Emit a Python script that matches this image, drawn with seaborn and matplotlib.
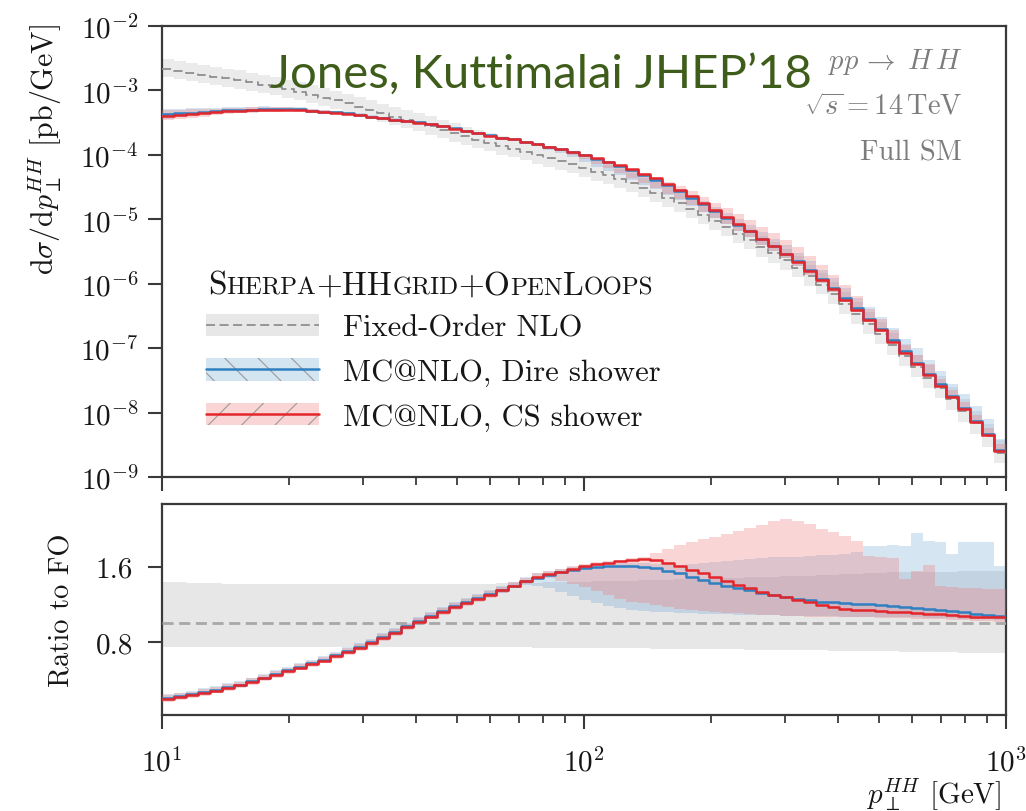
import numpy as np
import pandas as pd
import matplotlib
matplotlib.use("Agg")
import matplotlib.pyplot as plt
import matplotlib.ticker as mticker
import seaborn as sns
from matplotlib.patches import Patch
from matplotlib.lines import Line2D
from matplotlib.offsetbox import TextArea, HPacker, AnnotationBbox

# ---------------------------------------------------------------------------
# p_T^{HH} bin edges [GeV]
pt_edges = [10, 10.7, 11.4, 12.2, 13, 13.9, 14.8, 15.8, 16.9, 18, 19.2, 20.5,
            21.9, 23.4, 25, 26.7, 28.5, 30.4, 32.4, 34.6, 36.9, 39.4, 42,
            44.8, 47.8, 51, 54.4, 58, 61.9, 66, 70.4, 75.1, 80.1, 85.5, 91.2,
            97.3, 104, 111, 118, 126, 134, 143, 153, 163, 174, 186, 198, 211,
            225, 240, 256, 273, 291, 311, 332, 354, 378, 403, 430, 459, 490,
            523, 558, 595, 635, 677, 722, 770, 822, 877, 936, 1000]

# Fixed-order NLO central prediction [pb/GeV]
fo_central = [2.15e-3, 2.01e-3, 1.88e-3, 1.75e-3, 1.64e-3, 1.54e-3, 1.44e-3,
              1.33e-3, 1.23e-3, 1.13e-3,
              1.04e-3, 9.5e-4, 8.5e-4, 7.7e-4, 7.0e-4, 6.3e-4, 5.6e-4, 4.95e-4,
              4.4e-4, 3.9e-4,
              3.5e-4, 3.15e-4, 2.78e-4, 2.47e-4, 2.18e-4, 1.93e-4, 1.72e-4,
              1.53e-4, 1.37e-4, 1.24e-4,
              1.11e-4, 1.0e-4, 8.85e-5, 7.95e-5, 7.1e-5, 6.25e-5, 5.45e-5,
              4.8e-5, 4.2e-5, 3.6e-5,
              3.05e-5, 2.6e-5, 2.15e-5, 1.8e-5, 1.45e-5, 1.17e-5, 9.4e-6,
              7.6e-6, 6.0e-6, 4.8e-6,
              3.7e-6, 2.95e-6, 2.3e-6, 1.77e-6, 1.30e-6, 9.6e-7, 7.0e-7,
              4.9e-7, 3.45e-7, 2.4e-7,
              1.68e-7, 1.13e-7, 7.6e-8, 5.1e-8, 3.5e-8, 2.4e-8, 1.6e-8,
              1.05e-8, 6.8e-9, 4.3e-9,
              2.4e-9]

# Fixed-order scale band, relative to the central value
fo_band_lo = [0.74, 0.74, 0.74, 0.74, 0.74, 0.74, 0.74, 0.74, 0.74, 0.74,
              0.74, 0.74, 0.74, 0.74, 0.74, 0.74, 0.74, 0.74, 0.74, 0.74,
              0.74, 0.74, 0.74, 0.74, 0.74, 0.74, 0.74, 0.74, 0.74, 0.74,
              0.74, 0.73, 0.73, 0.73, 0.73, 0.73, 0.73, 0.73, 0.73, 0.73,
              0.73, 0.72, 0.72, 0.72, 0.72, 0.72, 0.72, 0.72, 0.72, 0.71,
              0.71, 0.71, 0.71, 0.71, 0.71, 0.71, 0.70, 0.70, 0.70, 0.70,
              0.70, 0.70, 0.69, 0.69, 0.69, 0.69, 0.69, 0.68, 0.68, 0.68,
              0.68]
fo_band_hi = [1.44, 1.44, 1.43, 1.43, 1.43, 1.42, 1.42, 1.42, 1.42, 1.42,
              1.42, 1.42, 1.42, 1.42, 1.42, 1.42, 1.42, 1.42, 1.42, 1.42,
              1.42, 1.42, 1.42, 1.42, 1.42, 1.42, 1.42, 1.42, 1.43, 1.43,
              1.43, 1.43, 1.44, 1.44, 1.44, 1.44, 1.45, 1.45, 1.45, 1.45,
              1.46, 1.46, 1.46, 1.47, 1.47, 1.47, 1.48, 1.48, 1.48, 1.49,
              1.49, 1.49, 1.50, 1.50, 1.50, 1.51, 1.51, 1.52, 1.52, 1.53,
              1.53, 1.54, 1.54, 1.55, 1.55, 1.55, 1.55, 1.56, 1.56, 1.56,
              1.56]

# MC@NLO + CS shower, ratio to fixed order (central and band)
cs_ratio = [0.19, 0.21, 0.23, 0.255, 0.28, 0.31, 0.335, 0.37, 0.41, 0.445,
            0.485, 0.525, 0.56, 0.60, 0.645, 0.69, 0.735, 0.785, 0.84, 0.895,
            0.955, 1.01, 1.07, 1.12, 1.17, 1.215, 1.26, 1.30, 1.35, 1.40,
            1.445, 1.49, 1.52, 1.55, 1.58, 1.61, 1.63, 1.645, 1.66, 1.67,
            1.68, 1.67, 1.645, 1.61, 1.57, 1.53, 1.49, 1.45, 1.41, 1.37,
            1.335, 1.30, 1.275, 1.25, 1.22, 1.195, 1.175, 1.155, 1.14, 1.135,
            1.13, 1.12, 1.115, 1.11, 1.10, 1.095, 1.085, 1.075, 1.065, 1.06,
            1.07]
cs_lo = [0.16, 0.18, 0.20, 0.225, 0.25, 0.28, 0.305, 0.34, 0.38, 0.415,
         0.455, 0.495, 0.53, 0.57, 0.615, 0.66, 0.705, 0.755, 0.81, 0.865,
         0.925, 0.98, 1.04, 1.09, 1.14, 1.185, 1.23, 1.27, 1.32, 1.37,
         1.415, 1.46, 1.48, 1.45, 1.42, 1.38, 1.34, 1.30, 1.26, 1.23,
         1.21, 1.19, 1.17, 1.15, 1.14, 1.13, 1.12, 1.11, 1.11, 1.10,
         1.09, 1.09, 1.08, 1.08, 1.07, 1.07, 1.07, 1.06, 1.06, 1.06,
         1.05, 1.05, 1.05, 1.04, 1.04, 1.04, 1.03, 1.03, 1.02, 1.02,
         1.01]
cs_hi = [0.23, 0.25, 0.27, 0.295, 0.32, 0.35, 0.375, 0.41, 0.45, 0.485,
         0.525, 0.565, 0.60, 0.64, 0.685, 0.73, 0.775, 0.825, 0.88, 0.935,
         0.995, 1.05, 1.11, 1.16, 1.21, 1.255, 1.30, 1.34, 1.39, 1.44,
         1.485, 1.53, 1.56, 1.58, 1.61, 1.63, 1.65, 1.66, 1.67, 1.69,
         1.71, 1.75, 1.79, 1.83, 1.87, 1.90, 1.92, 1.95, 1.98, 2.01,
         2.05, 2.09, 2.11, 2.09, 2.06, 2.00, 1.97, 1.93, 1.88, 1.72,
         1.70, 1.69, 1.47, 1.56, 1.62, 1.40, 1.38, 1.37, 1.37, 1.36,
         1.36]

# MC@NLO + Dire shower, ratio to fixed order (central and band)
dire_ratio = [0.20, 0.22, 0.24, 0.265, 0.29, 0.32, 0.345, 0.38, 0.42, 0.455,
              0.495, 0.535, 0.57, 0.61, 0.655, 0.70, 0.745, 0.795, 0.85, 0.905,
              0.965, 1.02, 1.08, 1.13, 1.18, 1.225, 1.27, 1.31, 1.355, 1.40,
              1.445, 1.485, 1.515, 1.545, 1.565, 1.585, 1.60, 1.61, 1.61, 1.61,
              1.60, 1.585, 1.56, 1.53, 1.495, 1.46, 1.43, 1.40, 1.375, 1.35,
              1.325, 1.30, 1.28, 1.26, 1.245, 1.23, 1.22, 1.21, 1.205, 1.20,
              1.19, 1.18, 1.17, 1.16, 1.15, 1.14, 1.13, 1.115, 1.10, 1.09,
              1.08]
dire_lo = [0.17, 0.19, 0.21, 0.235, 0.26, 0.29, 0.315, 0.35, 0.39, 0.425,
           0.465, 0.505, 0.54, 0.58, 0.625, 0.67, 0.715, 0.765, 0.82, 0.875,
           0.935, 0.99, 1.05, 1.10, 1.15, 1.195, 1.24, 1.28, 1.325, 1.37,
           1.41, 1.40, 1.37, 1.33, 1.29, 1.25, 1.21, 1.18, 1.16, 1.14,
           1.13, 1.12, 1.12, 1.11, 1.11, 1.10, 1.10, 1.10, 1.09, 1.09,
           1.09, 1.09, 1.08, 1.08, 1.08, 1.08, 1.08, 1.07, 1.07, 1.07,
           1.07, 1.06, 1.06, 1.06, 1.05, 1.05, 1.05, 1.04, 1.04, 1.04,
           1.03]
dire_hi = [0.24, 0.26, 0.28, 0.305, 0.33, 0.36, 0.385, 0.42, 0.46, 0.495,
           0.535, 0.575, 0.61, 0.65, 0.695, 0.74, 0.785, 0.835, 0.89, 0.945,
           1.005, 1.06, 1.12, 1.17, 1.22, 1.265, 1.31, 1.35, 1.395, 1.44,
           1.49, 1.53, 1.56, 1.58, 1.60, 1.62, 1.63, 1.64, 1.64, 1.64,
           1.64, 1.63, 1.63, 1.62, 1.63, 1.64, 1.65, 1.66, 1.67, 1.68,
           1.69, 1.70, 1.71, 1.71, 1.72, 1.73, 1.73, 1.74, 1.76, 1.82,
           1.82, 1.83, 1.82, 1.96, 1.88, 1.87, 1.74, 1.87, 1.87, 1.86,
           1.61]

legend_labels = ["Fixed-Order NLO", "MC@NLO, Dire shower", "MC@NLO, CS shower"]

# ---------------------------------------------------------------------------
sns.set_theme(style="ticks")
plt.rcParams.update({
    "font.family": ["cmr10", "DejaVu Serif"],
    "mathtext.fontset": "cm",
    "axes.formatter.use_mathtext": True,
    "axes.edgecolor": "#3a3a3a",
    "axes.linewidth": 1.6,
    "text.color": "#161616",
    "xtick.color": "#3a3a3a",
    "ytick.color": "#3a3a3a",
    "xtick.labelcolor": "#161616",
    "ytick.labelcolor": "#161616",
    "hatch.linewidth": 0.8,
})

C_RED = "#e3262b"
C_BLUE = "#2f7fc1"
C_FO = "#8f8f8f"
FILL_GREY = "#e7e7e7"
FILL_BLUE = "#64a0d2"
FILL_RED = "#f07878"

edges = np.array(pt_edges, dtype=float)
fo = np.array(fo_central)


def ext(v):
    """Repeat the last bin so step='post' fills reach the upper edge."""
    v = np.asarray(v, dtype=float)
    return np.append(v, v[-1])


def step_line(ax, values, **kw):
    df = pd.DataFrame({"pt": edges, "val": ext(values)})
    sns.lineplot(data=df, x="pt", y="val", ax=ax, drawstyle="steps-post",
                 estimator=None, sort=False, legend=False, **kw)


fig = plt.figure(figsize=(10.26, 8.12), dpi=100)
ax1 = fig.add_axes([0.1579, 0.4113, 0.8226, 0.5554])
ax2 = fig.add_axes([0.1579, 0.1182, 0.8226, 0.2599])

for ax in (ax1, ax2):
    ax.set_xscale("log")
    ax.set_xlim(10, 1000)
ax1.set_yscale("log")
ax1.set_ylim(1e-9, 1e-2)

# ---- main panel: differential cross sections
ax1.fill_between(edges, ext(fo * np.array(fo_band_lo)),
                 ext(fo * np.array(fo_band_hi)), step="post",
                 color=FILL_GREY, lw=0, alpha=0.8, zorder=1)
ax1.fill_between(edges, ext(fo * np.array(dire_lo)), ext(fo * np.array(dire_hi)),
                 step="post", color=FILL_BLUE, lw=0, alpha=0.27, zorder=2)
ax1.fill_between(edges, ext(fo * np.array(cs_lo)), ext(fo * np.array(cs_hi)),
                 step="post", color=FILL_RED, lw=0, alpha=0.31, zorder=3)
step_line(ax1, fo, color=C_FO, lw=1.3, linestyle=(0, (5, 2.5)), zorder=4)
step_line(ax1, fo * np.array(dire_ratio), color=C_BLUE, lw=1.8, zorder=5)
step_line(ax1, fo * np.array(cs_ratio), color=C_RED, lw=1.8, zorder=6)

# ---- ratio panel
ax2.fill_between(edges, ext(fo_band_lo), ext(fo_band_hi), step="post",
                 color=FILL_GREY, lw=0, zorder=1)
ax2.fill_between(edges, ext(dire_lo), ext(dire_hi), step="post",
                 color=FILL_BLUE, lw=0, alpha=0.27, zorder=2)
ax2.fill_between(edges, ext(cs_lo), ext(cs_hi), step="post",
                 color=FILL_RED, lw=0, alpha=0.31, zorder=3)
ax2.axhline(1.0, color="#a8a8a8", lw=2.0, linestyle=(0, (4, 2)), zorder=4)
step_line(ax2, dire_ratio, color=C_BLUE, lw=1.8, zorder=5)
step_line(ax2, cs_ratio, color=C_RED, lw=1.8, zorder=6)
ax2.set_ylim(0.02, 2.27)
ax2.set_yticks([0.8, 1.6])
ax2.yaxis.set_major_formatter(mticker.FormatStrFormatter("%.1f"))

# ---- ticks and frame
for ax in (ax1, ax2):
    ax.set_xlabel("")
    ax.set_ylabel("")
    ax.xaxis.set_major_locator(mticker.LogLocator(base=10, numticks=10))
    ax.xaxis.set_minor_locator(mticker.LogLocator(base=10, subs=np.arange(2, 10),
                                                  numticks=20))
    ax.xaxis.set_minor_formatter(mticker.NullFormatter())
    ax.tick_params(which="major", direction="out", length=10, width=1.5,
                   labelsize=21, top=False, right=False)
    ax.tick_params(which="minor", direction="out", length=6, width=1.3,
                   top=False, right=False)
    for s in ax.spines.values():
        s.set_visible(True)
ax1.yaxis.set_major_locator(mticker.LogLocator(base=10, numticks=12))
ax1.yaxis.set_minor_locator(mticker.NullLocator())
ax1.tick_params(axis="x", which="both", labelbottom=False)
ax1.tick_params(axis="y", pad=7)
ax2.tick_params(axis="y", pad=11)
ax2.tick_params(axis="x", pad=13)

# ---- axis titles
fig.text(45 / 1026, 1 - 150 / 812,
         r"$\mathrm{d}\sigma/\mathrm{d}p_{\perp}^{HH}$ [pb/GeV]",
         rotation=90, ha="center", va="center", fontsize=21.5)
fig.text(62 / 1026, 1 - 610 / 812, "Ratio to FO", rotation=90,
         ha="center", va="center", fontsize=20.5)
fig.text(1001 / 1026, 1 - 795 / 812, r"$p_{\perp}^{HH}$ [GeV]",
         ha="right", va="center", fontsize=21)

# ---- process annotations
grey_txt = "#7c7c7c"
fig.text(962 / 1026, 1 - 62 / 812, r"$pp\,\rightarrow\;H\,H$", ha="right",
         va="center", fontsize=20.5, color=grey_txt)
fig.text(962 / 1026, 1 - 107 / 812, r"$\sqrt{s}=14\,\mathrm{TeV}$", ha="right",
         va="center", fontsize=20.5, color=grey_txt)
fig.text(962 / 1026, 1 - 153 / 812, "Full SM", ha="right", va="center",
         fontsize=20.5, color=grey_txt)

# ---- legend
h_fo = (Patch(facecolor=FILL_GREY, edgecolor="none"),
        Line2D([], [], color=C_FO, lw=1.3, linestyle=(0, (5, 2.5))))
h_dire = (Patch(facecolor=(0.39, 0.63, 0.82, 0.27), edgecolor="#9a9a9a",
                hatch="\\", lw=0),
          Line2D([], [], color=C_BLUE, lw=1.8))
h_cs = (Patch(facecolor=(0.94, 0.47, 0.47, 0.31), edgecolor="#9a9a9a",
              hatch="/", lw=0),
        Line2D([], [], color=C_RED, lw=1.8))
leg = ax1.legend([h_fo, h_dire, h_cs], legend_labels,
                 loc="upper left", bbox_to_anchor=(206 / 1026, 1 - 315 / 812),
                 bbox_transform=fig.transFigure, frameon=False, fontsize=22,
                 handlelength=3.69, handleheight=0.75, handletextpad=0.78,
                 labelspacing=0.54, borderpad=0, borderaxespad=0)

# small-caps generator title
pieces = [("S", 24), ("HERPA", 18), ("+HH", 24), ("GRID", 18), ("+O", 24),
          ("PEN", 18), ("L", 24), ("OOPS", 18)]
areas = [TextArea(t, textprops=dict(fontsize=s, family=["cmr10", "DejaVu Serif"],
                                    color="#161616"))
         for t, s in pieces]
title_box = HPacker(children=areas, align="baseline", pad=0, sep=0)
ab = AnnotationBbox(title_box, (208, 812 - 301), xycoords="figure pixels",
                    box_alignment=(0, 0), frameon=False, pad=0)
fig.add_artist(ab)

# ---- citation overlay
fig.text(270 / 1026, 1 - 88 / 812, "Jones, Kuttimalai JHEP\u201918",
         fontsize=34, family=["Lato", "DejaVu Sans"], color="#3e5d1b",
         ha="left", va="baseline", zorder=10)

fig.savefig("out.png", dpi=100)
